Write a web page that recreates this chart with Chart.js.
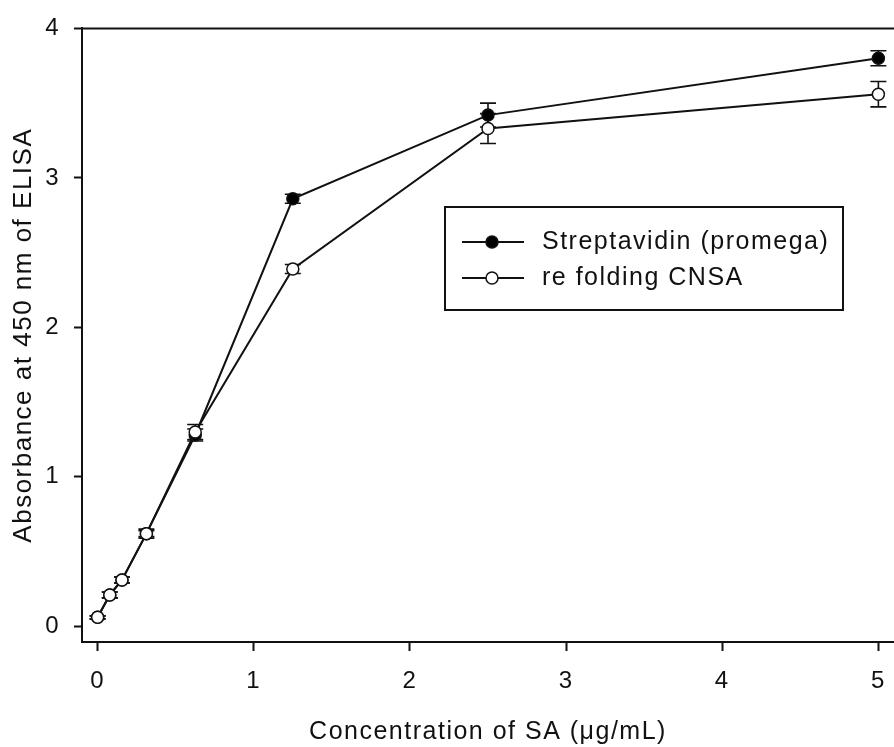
<!DOCTYPE html>
<html>
<head>
<meta charset="utf-8">
<script src="https://cdn.jsdelivr.net/npm/chart.js@4/dist/chart.umd.min.js"></script>
<style>
  html, body { margin: 0; padding: 0; background: #fff; overflow: hidden; }
  #wrap { width: 894px; height: 747px; }
  canvas { display: block; }
</style>
</head>
<body>
<div id="wrap"><canvas id="elisaChart" width="894" height="747"></canvas></div>
<script>
// konsentrasi SA (ug/mL) dan absorbansi 450 nm
const xValues = [0, 0.078, 0.156, 0.3125, 0.625, 1.25, 2.5, 5];
const strepValues = [0.06, 0.21, 0.31, 0.62, 1.28, 2.86, 3.42, 3.80];
const strepErrors = [0.01, 0.02, 0.02, 0.02, 0.04, 0.03, 0.08, 0.05];
const cnsaValues = [0.06, 0.21, 0.31, 0.62, 1.30, 2.39, 3.33, 3.56];
const cnsaErrors = [0.01, 0.02, 0.02, 0.03, 0.05, 0.03, 0.10, 0.085];
const seriesNames = ['Streptavidin (promega)', 're folding CNSA'];
const xTicks = [0, 1, 2, 3, 4, 5];
const yTicks = [0, 1, 2, 3, 4];

const FONT = '"Liberation Sans", Arial, sans-serif';
const INK = '#111';

const toPoints = (vals) => vals.map((v, i) => ({ x: xValues[i], y: v }));

// spasi huruf ala gambar asli (teks GDI agak renggang)
const spacingPlugin = {
    id: 'spacing',
    beforeLayout(chart) { chart.ctx.letterSpacing = '1.5px'; },
    beforeDraw(chart) { chart.ctx.letterSpacing = '1.5px'; }
};

// error bar digambar di bawah marker
const errorBarPlugin = {
    id: 'errorBars',
    beforeDatasetsDraw(chart) {
        const { ctx, scales: { x, y } } = chart;
        const errs = [strepErrors, cnsaErrors];
        ctx.save();
        ctx.strokeStyle = INK;
        ctx.lineWidth = 1.6;
        chart.data.datasets.forEach((ds, d) => {
            ds.data.forEach((p, i) => {
                const e = errs[d][i];
                const px = x.getPixelForValue(p.x);
                const top = y.getPixelForValue(p.y + e);
                const bot = y.getPixelForValue(p.y - e);
                ctx.beginPath();
                ctx.moveTo(px, top); ctx.lineTo(px, bot);
                ctx.moveTo(px - 8, top); ctx.lineTo(px + 8, top);
                ctx.moveTo(px - 8, bot); ctx.lineTo(px + 8, bot);
                ctx.stroke();
            });
        });
        ctx.restore();
    }
};

// garis bingkai atas (+ sambungan sumbu x ke tepi kanan) + kotak legenda
const framePlugin = {
    id: 'frame',
    afterDraw(chart) {
        const { ctx, chartArea } = chart;
        ctx.save();
        ctx.strokeStyle = INK;
        ctx.lineWidth = 2;
        ctx.beginPath();
        ctx.moveTo(chartArea.left, chartArea.top);
        ctx.lineTo(chart.width, chartArea.top);
        ctx.moveTo(chartArea.right - 1, chartArea.bottom);
        ctx.lineTo(chart.width, chartArea.bottom);
        ctx.stroke();

        // legenda
        const bx = 445, by = 207, bw = 398, bh = 103;
        ctx.strokeRect(bx, by, bw, bh);
        const rows = [by + 35, by + 71];
        chart.data.datasets.forEach((ds, d) => {
            const ry = rows[d];
            ctx.lineWidth = 2;
            ctx.beginPath();
            ctx.moveTo(bx + 17, ry); ctx.lineTo(bx + 79, ry);
            ctx.stroke();
            ctx.beginPath();
            ctx.arc(bx + 47, ry, 6, 0, Math.PI * 2);
            ctx.fillStyle = ds.pointBackgroundColor;
            ctx.fill();
            ctx.lineWidth = 1.5;
            ctx.stroke();
            ctx.fillStyle = INK;
            ctx.font = '25px ' + FONT;
            ctx.textBaseline = 'middle';
            ctx.textAlign = 'left';
            ctx.fillText(seriesNames[d], bx + 97, ry);
        });
        ctx.restore();
    }
};

new Chart(document.getElementById('elisaChart'), {
    type: 'scatter',
    data: {
        datasets: [
            {
                label: seriesNames[0], data: toPoints(strepValues), showLine: true, order: 1, clip: false,
                borderColor: INK, borderWidth: 2, pointRadius: 6, pointBorderWidth: 1.5,
                pointBackgroundColor: '#000', pointBorderColor: INK
            },
            {
                label: seriesNames[1], data: toPoints(cnsaValues), showLine: true, order: 0, clip: false,
                borderColor: INK, borderWidth: 2, pointRadius: 6, pointBorderWidth: 1.5,
                pointBackgroundColor: '#fff', pointBorderColor: INK
            }
        ]
    },
    options: {
        responsive: false, animation: false,
        // autoPadding mati: kalau tidak, radius marker menggeser tepi kanan area plot
        layout: { autoPadding: false, padding: { top: 25, right: 0, left: 0, bottom: 0 } },
        plugins: { legend: { display: false }, tooltip: { enabled: false } },
        scales: {
            x: {
                min: -0.1, max: 5.1,
                afterBuildTicks: (s) => { s.ticks = xTicks.map(v => ({ value: v })); },
                afterFit: (s) => { s.height = 105; },
                grid: { drawOnChartArea: false, drawTicks: true, tickLength: 9, tickWidth: 2, tickColor: INK },
                border: { display: true, color: INK, width: 2 },
                // baris kosong di atas label: angka turun tanpa ticks.padding (padding itu menyempitkan area plot)
                ticks: {
                    color: INK, font: { family: FONT, size: 24, lineHeight: '20px' }, padding: 0, maxRotation: 0,
                    callback: (v) => ['', String(v)]
                },
                title: {
                    display: true, text: 'Concentration of SA (μg/mL)', color: INK,
                    font: { family: FONT, size: 25 }, padding: { top: 0, bottom: 0 }
                }
            },
            y: {
                min: -0.105, max: 4,
                afterBuildTicks: (s) => { s.ticks = yTicks.map(v => ({ value: v })); },
                afterFit: (s) => { s.width = 82; },
                grid: { drawOnChartArea: false, drawTicks: true, tickLength: 8, tickWidth: 2, tickColor: INK },
                border: { display: true, color: INK, width: 2 },
                ticks: { color: INK, font: { family: FONT, size: 24 }, padding: 14 },
                title: {
                    display: true, text: 'Absorbance at 450 nm of ELISA', color: INK,
                    font: { family: FONT, size: 26 }, padding: { top: 8, bottom: 0 }
                }
            }
        }
    },
    plugins: [spacingPlugin, errorBarPlugin, framePlugin]
});
</script>
</body>
</html>
